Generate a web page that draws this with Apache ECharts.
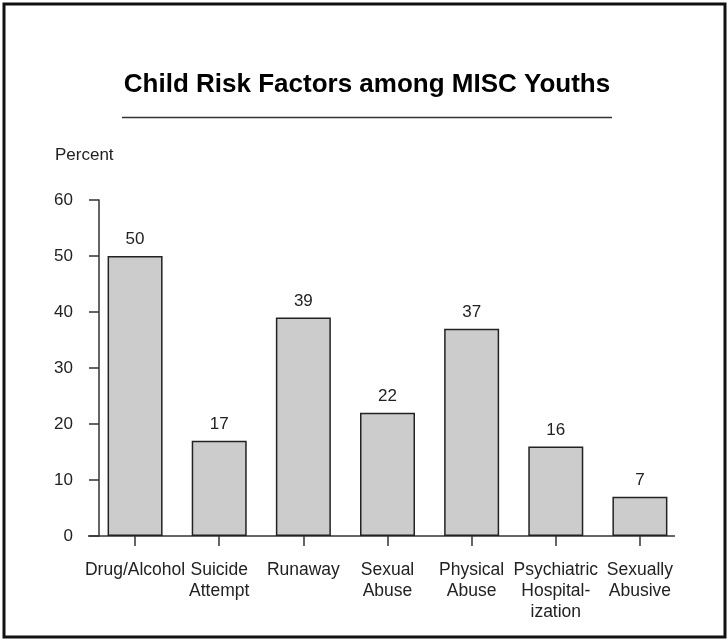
<!DOCTYPE html>
<html>
<head>
<meta charset="utf-8">
<script src="https://cdn.jsdelivr.net/npm/echarts@6/dist/echarts.min.js"></script>
<style>
  html, body { margin: 0; padding: 0; background: #fff; }
  #chart { width: 727px; height: 639px; }
</style>
</head>
<body>
<div id="chart"></div>
<script>
// Risk factor categories (line breaks as printed under the axis)
const categories = [
  'Drug/Alcohol',
  'Suicide\nAttempt',
  'Runaway',
  'Sexual\nAbuse',
  'Physical\nAbuse',
  'Psychiatric\nHospital-\nization',
  'Sexually\nAbusive'
];
// Share of youths with each risk factor (percent)
const percentValues = [50, 17, 39, 22, 37, 16, 7];
// Value axis range
const yMin = 0;
const yMax = 60;
const yStep = 10;

const FONT = '"Liberation Sans", Arial, sans-serif';
const INK = '#222';

const chart = echarts.init(document.getElementById('chart'), null, { renderer: 'canvas' });

chart.setOption({
  animation: false,
  backgroundColor: '#fff',
  grid: { left: 93, right: 45, top: 200, bottom: 103, containLabel: false },
  xAxis: {
    type: 'category',
    data: categories,
    axisLine: { show: false },
    axisTick: { show: true, alignWithLabel: true, length: 10, lineStyle: { color: '#333', width: 1.5 } },
    axisLabel: {
      interval: 0, margin: 24, color: INK, fontFamily: FONT, fontSize: 17.5, lineHeight: 21, align: 'center'
    },
    splitLine: { show: false }
  },
  yAxis: {
    type: 'value',
    min: yMin, max: yMax, interval: yStep,
    offset: -6,
    axisLine: { show: true, lineStyle: { color: '#333', width: 1.5 } },
    axisTick: { show: true, inside: false, length: 10, lineStyle: { color: '#333', width: 1.5 } },
    axisLabel: { margin: 26, color: INK, fontFamily: FONT, fontSize: 17 },
    splitLine: { show: false }
  },
  series: [{
    type: 'bar',
    data: percentValues,
    barWidth: 55,
    itemStyle: { color: '#cccccc', borderColor: '#222', borderWidth: 1.5 },
    label: {
      show: true, position: 'top', distance: 8,
      color: INK, fontFamily: FONT, fontSize: 17
    }
  }],
  graphic: [
    // outer frame
    { type: 'rect', shape: { x: 4, y: 4, width: 721, height: 633 },
      style: { fill: 'none', stroke: '#111', lineWidth: 3 }, silent: true },
    // title and rule beneath it
    { type: 'text', x: 367, y: 85,
      style: { text: 'Child Risk Factors among MISC Youths', fill: '#000',
               font: 'bold 26px ' + FONT, align: 'center', verticalAlign: 'middle' } },
    { type: 'line', shape: { x1: 122, y1: 117.5, x2: 612, y2: 117.5 },
      style: { stroke: '#333', lineWidth: 1.5 } },
    // axis unit
    { type: 'text', x: 55, y: 155,
      style: { text: 'Percent', fill: INK, font: '17px ' + FONT, align: 'left', verticalAlign: 'middle' } },
    // baseline of the bars
    { type: 'line', shape: { x1: 88, y1: 536, x2: 675, y2: 536 },
      style: { stroke: '#333', lineWidth: 1.5 } }
  ]
});
</script>
</body>
</html>
